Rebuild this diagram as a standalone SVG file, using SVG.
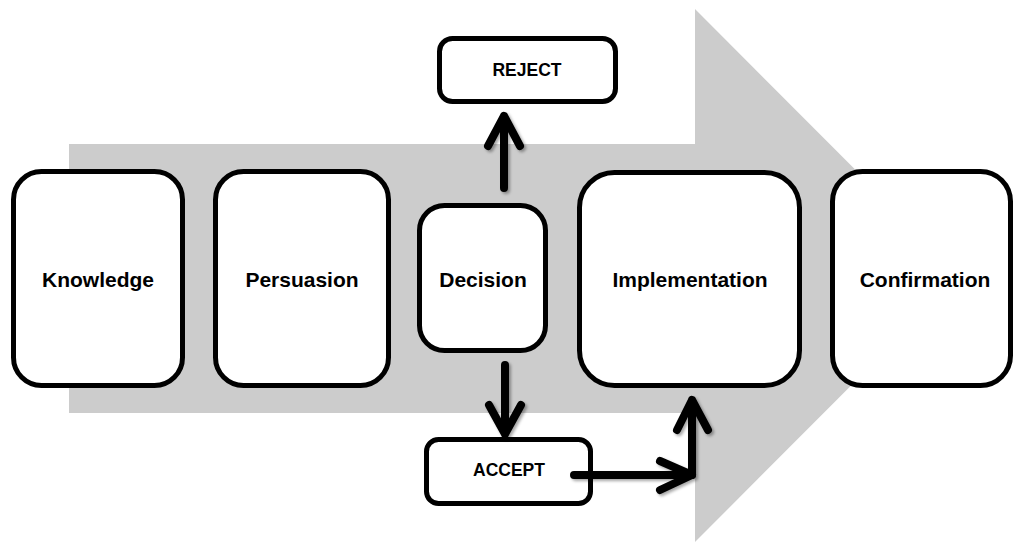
<svg xmlns="http://www.w3.org/2000/svg" width="1013" height="542" viewBox="0 0 1013 542">
<style>
.box{fill:#fff;stroke:#000;stroke-width:5}
.lbl{font-family:"Liberation Sans",Arial,sans-serif;font-weight:bold;fill:#000;text-anchor:middle}
.big{font-size:21px}
.small{font-size:17.5px}
.con{fill:none;stroke:#000;stroke-width:8;stroke-linecap:round;stroke-linejoin:round}
</style>
<defs>
<filter id="sh" x="-20%" y="-20%" width="140%" height="140%">
<feDropShadow dx="2" dy="2" stdDeviation="1.8" flood-color="#000" flood-opacity="0.35"/>
</filter>
</defs>
<rect width="1013" height="542" fill="#fff"/>
<polygon id="bigArrow" points="69,144 695,144 695,9 961,275.5 695,542 695,413 69,413" fill="#cccccc"/>
<g id="knowledge"><rect class="box" x="13.5" y="171.5" width="169" height="214" rx="28"/><text class="lbl big" x="98" y="287">Knowledge</text></g>
<g id="persuasion"><rect class="box" x="215.5" y="171.5" width="173" height="214" rx="28"/><text class="lbl big" x="302" y="287">Persuasion</text></g>
<g id="decision"><rect class="box" x="419.5" y="205.5" width="126" height="145" rx="25"/><text class="lbl big" x="483" y="287">Decision</text></g>
<g id="implementation"><rect class="box" x="579.5" y="172.5" width="220" height="213" rx="35"/><text class="lbl big" x="690" y="287">Implementation</text></g>
<g id="confirmation"><rect class="box" x="832.5" y="171.5" width="178" height="214" rx="30"/><text class="lbl big" x="925" y="287">Confirmation</text></g>
<g id="reject"><rect class="box" x="439.5" y="38.5" width="176" height="63" rx="13"/><text class="lbl small" x="527" y="76">REJECT</text></g>
<g id="accept"><rect class="box" x="426.5" y="439.5" width="164" height="64" rx="12"/><text class="lbl small" x="509" y="476">ACCEPT</text></g>
<g id="connectors" filter="url(#sh)">
<path class="con" d="M504,188 L504,116 M488,146 L504,116 L520,146"/>
<path class="con" d="M505,365 L505,434 M489,405 L505,434 L521,405"/>
<path class="con" d="M574,475 L692,475 M660,461 L692,475 L660,490"/>
<path class="con" d="M692,475 L692,400 M677,430 L692,400 L708,430"/>
</g>
</svg>
